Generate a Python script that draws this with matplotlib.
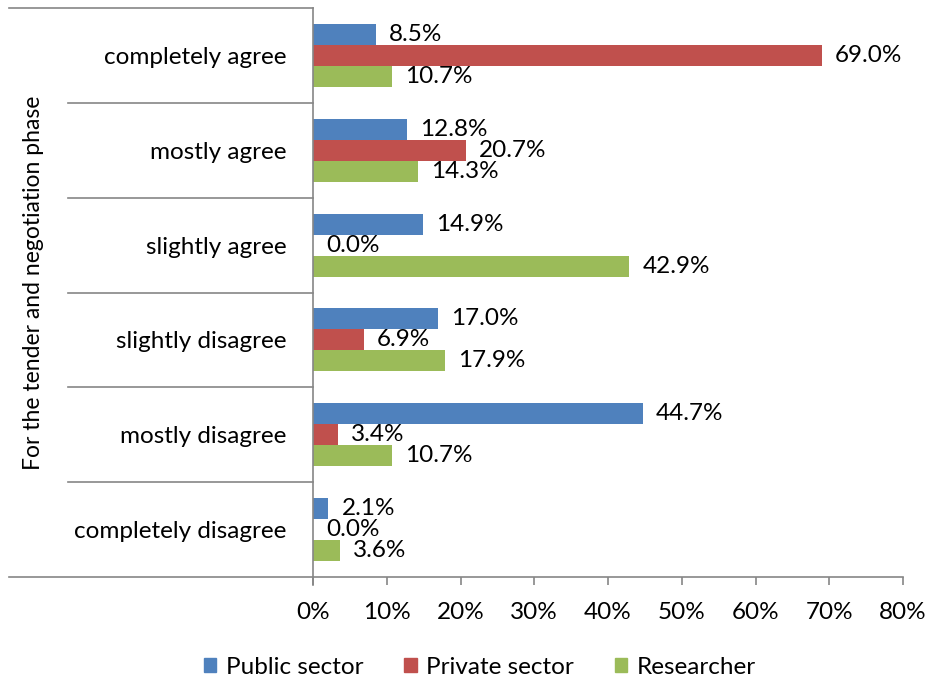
import matplotlib
matplotlib.use("Agg")
import matplotlib.pyplot as plt
import matplotlib.transforms as mtransforms
from matplotlib.lines import Line2D
from matplotlib.patches import Patch
import numpy as np

plt.rcParams['font.family'] = ['Lato', 'DejaVu Sans']

categories = ["completely agree", "mostly agree", "slightly agree",
              "slightly disagree", "mostly disagree", "completely disagree"]
series_names = ["Public sector", "Private sector", "Researcher"]
public = [8.5, 12.8, 14.9, 17.0, 44.7, 2.1]
private = [69.0, 20.7, 0.0, 6.9, 3.4, 0.0]
researcher = [10.7, 14.3, 42.9, 17.9, 10.7, 3.6]
x_ticks = [0, 10, 20, 30, 40, 50, 60, 70, 80]
y_title = "For the tender and negotiation phase"

colors = ["#4F81BD", "#C0504D", "#9BBB59"]
FS = 17.5
W, H = 930, 681
fig = plt.figure(figsize=(W / 100, H / 100), dpi=100)
ax = fig.add_axes([313 / W, 1 - 577 / H, (903 - 313) / W, (577 - 8) / H])

y = np.arange(len(categories))
bh = 0.222
for i, (vals, c, name) in enumerate(zip([public, private, researcher], colors, series_names)):
    pos = y + (i - 1) * bh
    ax.barh(pos, vals, height=bh, color=c, label=name, zorder=2)
    for p, v in zip(pos, vals):
        ax.annotate(f"{v:.1f}%", (v, p), xytext=(13, 0), textcoords="offset pixels",
                    ha="left", va="center", fontsize=FS, color="#000000")

ax.set_xlim(0, 80)
ax.set_ylim(len(categories) - 0.5, -0.5)
ax.set_xticks(x_ticks)
ax.set_xticklabels([f"{t}%" for t in x_ticks], fontsize=FS)
ax.set_yticks(y)
ax.set_yticklabels(categories, fontsize=FS)
ax.tick_params(axis="y", length=0, pad=19)
ax.tick_params(axis="x", direction="out", length=6, width=1.2, color="#868686", pad=12)

for s in ["top", "right"]:
    ax.spines[s].set_visible(False)
for s in ["left", "bottom"]:
    ax.spines[s].set_color("#868686")
    ax.spines[s].set_linewidth(1.2)

# category separators on the left
trans = mtransforms.blended_transform_factory(fig.transFigure, ax.transData)
bounds = np.arange(-0.5, len(categories) + 0.5, 1.0)
for k, b in enumerate(bounds):
    x0 = 9 / W if (k == 0 or k == len(bounds) - 1) else 68 / W
    fig.add_artist(Line2D([x0, 313 / W], [b, b], transform=trans, color="#868686", lw=1.2))
ax.spines["left"].set_bounds(len(categories) - 0.5 + 0.08, -0.5)

fig.text(33 / W, 1 - 283 / H, y_title, rotation=90, ha="center", va="center", fontsize=16.5)

handles = [Patch(color=c) for c in colors]
fig.legend(handles, series_names, loc="center", bbox_to_anchor=(480 / W, 1 - 667 / H),
           ncol=3, frameon=False, fontsize=FS, handlelength=0.5, handleheight=0.5,
           handletextpad=0.4, columnspacing=1.7)

fig.savefig("out.png", dpi=100)
